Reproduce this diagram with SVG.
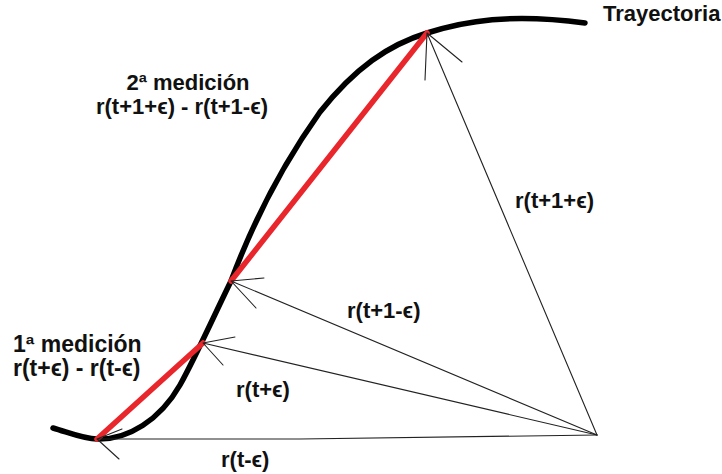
<svg xmlns="http://www.w3.org/2000/svg" width="722" height="474" viewBox="0 0 722 474">
<style>
.lbl{font-family:"Liberation Sans","DejaVu Sans",sans-serif;font-weight:bold;font-size:22px;fill:#111}
.big{font-size:23px}
.arr{fill:none;stroke:#222;stroke-width:1.1;stroke-linecap:round;stroke-linejoin:round}
.chord{stroke:#e8262b;stroke-width:5.5;stroke-linecap:round;fill:none}
.traj{fill:none;stroke:#000;stroke-width:5.5;stroke-linecap:round}
</style>
<rect width="722" height="474" fill="#fff"/>
<g id="trayectoria">
<path class="traj" d="M53,428 C70,433 84,439 97,439 C128,440 160,420 180,385 C195,358 212,320 231,281 C252,225 280,168 320,112 C355,68 388,45 427,33 C465,21 510,13 585,23"/>
<text class="lbl" x="603" y="21">Trayectoria</text>
</g>
<g id="medicion1">
<line class="chord" x1="97" y1="439" x2="203" y2="343"/>
<text class="lbl big" x="13" y="352">1ª medición</text>
<text class="lbl big" x="13" y="376">r(t+ϵ) - r(t-ϵ)</text>
</g>
<g id="medicion2">
<line class="chord" x1="231" y1="281" x2="427" y2="33"/>
<text class="lbl" x="188" y="90" text-anchor="middle">2ª medición</text>
<text class="lbl" x="182" y="114" text-anchor="middle">r(t+1+ϵ) - r(t+1-ϵ)</text>
</g>
<g id="connectors">
<path class="arr" d="M597,435 L300,439 L97,439 M122,429 L97,439 L119,459"/>
<path class="arr" d="M597,435 L203,343 M235,337 L203,343 L223,365"/>
<path class="arr" d="M597,435 L231,281 M264,278 L231,281 L256,308"/>
<path class="arr" d="M597,435 L427,33 M462,62 L427,33 L425,80"/>
</g>
<g id="labels">
<text class="lbl" x="515" y="208">r(t+1+ϵ)</text>
<text class="lbl" x="347" y="318">r(t+1-ϵ)</text>
<text class="lbl" x="236" y="397">r(t+ϵ)</text>
<text class="lbl" x="221" y="467">r(t-ϵ)</text>
</g>
</svg>
